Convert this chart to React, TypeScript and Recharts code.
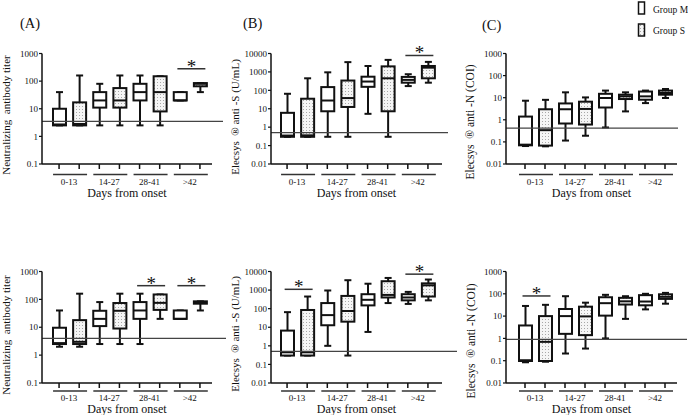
import { ComposedChart, Bar, XAxis, YAxis, ReferenceLine } from 'recharts';

const FONT = "'Liberation Serif', 'Times New Roman', serif";
const INK = '#111';

const CATEGORIES = ['0-13', '14-27', '28-41', '>42'];
const GROUPS = ['Group M', 'Group S'];

// [min, q1, median, q3, max] per box, ordered M, S for each day range
const neutTop = [
  [2.5, 2.5, 2.7, 10, 40], [2.5, 2.5, 2.8, 17, 160],
  [2.5, 11, 20, 40, 80], [2.5, 11, 20, 56, 160],
  [2.5, 20, 40, 80, 160], [2.5, 8, 40, 150, 150],
  [20, 20, 20, 40, 40], [40, 65, 80, 85, 85],
];
const antiSTop = [
  [0.3, 0.3, 0.35, 6, 65], [0.3, 0.3, 0.36, 35, 450],
  [0.3, 7.3, 28, 150, 950], [0.3, 12.5, 38, 340, 3400],
  [5.3, 155, 300, 550, 2100], [0.3, 7.3, 450, 2000, 4500],
  [170, 260, 370, 535, 750], [260, 450, 1700, 2100, 3500],
];
const antiNTop = [
  [0.065, 0.07, 0.075, 1.4, 7.3], [0.063, 0.068, 0.34, 3, 8],
  [0.115, 0.68, 3, 5.5, 17.5], [0.19, 0.61, 3.1, 6.6, 10.3],
  [0.45, 3.6, 9.7, 15, 21], [2.4, 8.7, 11.5, 13.7, 17.5],
  [5.7, 8.1, 11.5, 19, 21], [9.7, 13.7, 16.3, 21, 24.8],
];
const neutBottom = [
  [2.0, 2.5, 2.7, 9.6, 40], [2.0, 2.5, 3.0, 18, 160],
  [2.5, 11, 20, 39, 80], [2.5, 9, 39, 74, 160],
  [2.5, 20, 40, 80, 160], [20, 42, 75, 150, 150],
  [20, 20, 20, 40, 40], [40, 70, 80, 85, 85],
];
const antiSBottom = [
  [0.3, 0.3, 0.45, 6.6, 65], [0.3, 0.3, 0.45, 85, 450],
  [1.0, 12.8, 45, 200, 950], [0.3, 20, 75, 485, 3400],
  [5.6, 150, 300, 600, 2200], [200, 400, 550, 3000, 4500],
  [180, 280, 400, 600, 800], [280, 450, 1800, 2300, 3700],
];
const antiNBottom = [
  [0.085, 0.097, 0.105, 3.8, 28.5], [0.09, 0.097, 0.7, 10, 32],
  [0.21, 1.6, 10, 20.8, 78], [0.35, 1.4, 9.7, 26.5, 40],
  [1.0, 10.5, 38, 70, 90], [7.5, 33, 46, 66, 78],
  [20, 30.5, 45, 87, 100], [36, 59, 73, 95, 110],
];

// height of the significance bar per day range (null = none)
const neutTopSig = [null, null, null, 280];
const antiSTopSig = [null, null, null, 7800];
const antiNTopSig = [null, null, null, null];
const neutBottomSig = [null, null, 310, 310];
const antiSBottomSig = [1100, null, null, 7200];
const antiNBottomSig = [80, null, null, null];

const TICKS_NEUT = [0.1, 1, 10, 100, 1000];
const TICKS_S = [0.01, 0.1, 1, 10, 100, 1000, 10000];
const TICKS_N = [0.01, 0.1, 1, 10, 100, 1000];

const ROWS = [
  { top: 0, height: 210, marginTop: 53.5, xHeight: 46, ul: 10.5, lbl: 21, title: 32.5 },
  { top: 210, height: 205, marginTop: 61.5, xHeight: 32, ul: 8, lbl: 18, title: 30 },
];
const COLS = [
  { left: 0, width: 230, yWidth: 42, marginRight: 18, padL: 7, padR: 2 },
  { left: 230, width: 230, yWidth: 41, marginRight: 18, padL: 6, padR: 4 },
  { left: 460, width: 228, yWidth: 46, marginRight: 11, padL: 9, padR: 2 },
];

const PANELS = [
  { row: 0, col: 0, boxes: neutTop, sig: neutTopSig, cutoff: 3.5, ticks: TICKS_NEUT, refExt: 11,
    yLabel: 'Neutralizing  antibody titer', lx: 5.5, ly: 115, ls: 11 },
  { row: 0, col: 1, boxes: antiSTop, sig: antiSTopSig, cutoff: 0.5, ticks: TICKS_S, refExt: 6,
    yLabel: 'Elecsys  \u00ae anti -S (U/mL)', lx: 5, ly: 117, ls: 11 },
  { row: 0, col: 2, boxes: antiNTop, sig: antiNTopSig, cutoff: 0.42, ticks: TICKS_N, refExt: 1,
    yLabel: 'Elecsys  \u00ae anti -N (COI)', lx: 10, ly: 122, ls: 11.5 },
  { row: 1, col: 0, boxes: neutBottom, sig: neutBottomSig, cutoff: 4, ticks: TICKS_NEUT, refExt: 14,
    yLabel: 'Neutralizing  antibody titer', lx: 5.5, ly: 125, ls: 11 },
  { row: 1, col: 1, boxes: antiSBottom, sig: antiSBottomSig, cutoff: 0.5, ticks: TICKS_S, refExt: 15,
    yLabel: 'Elecsys  \u00ae anti -S (U/mL)', lx: 4.5, ly: 124, ls: 11 },
  { row: 1, col: 2, boxes: antiNBottom, sig: antiNBottomSig, cutoff: 0.9, ticks: TICKS_N, refExt: 10,
    yLabel: 'Elecsys  \u00ae anti -N (COI)', lx: 10.5, ly: 131, ls: 11.5 },
];

function buildRows(boxes: number[][], sig: (number | null)[]) {
  return boxes.map((b, i) => {
    const cat = Math.floor(i / 2);
    const group = i % 2;
    return {
      key: `${CATEGORIES[cat]} ${GROUPS[group]}`,
      cat,
      group,
      min: b[0], q1: b[1], med: b[2], q3: b[3], max: b[4],
      range: [b[0], b[4]],
      sig: group === 1 ? sig[cat] : null,
    };
  });
}

// eslint-disable-next-line @typescript-eslint/no-explicit-any
function BoxShape(props: any) {
  const { x, y, width, height, payload } = props;
  if (!payload) return null;
  const top = Math.min(y, y + height);
  const bottom = Math.max(y, y + height);
  const span = bottom - top;
  const lo = Math.log10(payload.min);
  const hi = Math.log10(payload.max);
  // bar spans [min, max] on the log axis, so interpolate in log space
  const py = (v: number) => bottom - ((Math.log10(v) - lo) / (hi - lo)) * span;
  const cx = x + width / 2;
  const half = width / 2;
  const cap = 3.5;
  const yq1 = py(payload.q1);
  const yq3 = py(payload.q3);
  const ymed = py(payload.med);
  const fill = payload.group === 1 ? 'url(#dotFill)' : '#fff';
  const sy = payload.sig != null ? py(payload.sig) : null;
  return (
    <g>
      <line x1={cx} y1={top} x2={cx} y2={yq3} stroke={INK} strokeWidth={2} />
      <line x1={cx} y1={yq1} x2={cx} y2={bottom} stroke={INK} strokeWidth={2} />
      <line x1={cx - cap} y1={top} x2={cx + cap} y2={top} stroke={INK} strokeWidth={2} />
      <line x1={cx - cap} y1={bottom} x2={cx + cap} y2={bottom} stroke={INK} strokeWidth={2} />
      <rect x={cx - half} y={yq3} width={width} height={Math.max(yq1 - yq3, 0)} fill={fill} stroke={INK} strokeWidth={2} />
      <line x1={cx - half} y1={ymed} x2={cx + half} y2={ymed} stroke={INK} strokeWidth={2} />
      {sy != null && (
        <g>
          <line x1={cx - 23} y1={sy} x2={cx + 5} y2={sy} stroke="#333" strokeWidth={1.5} />
          <text x={cx - 9} y={sy + 4} textAnchor="middle" fontSize={19} fontFamily={FONT} fill={INK}>*</text>
        </g>
      )}
    </g>
  );
}

// eslint-disable-next-line @typescript-eslint/no-explicit-any
function GroupTick(props: any) {
  const { x, y, payload, row } = props;
  const lay = ROWS[row];
  const idx = payload.index;
  return (
    <g>
      <line x1={x} y1={y} x2={x} y2={y + 5} stroke={INK} strokeWidth={1.5} />
      {idx % 2 === 0 && (
        <g>
          <line x1={x - 6} y1={y + lay.ul} x2={x + 28} y2={y + lay.ul} stroke="#333" strokeWidth={1.5} />
          <text x={x + 10} y={y + lay.lbl} textAnchor="middle" fontSize={9} fontFamily={FONT} fill={INK}>
            {CATEGORIES[idx / 2]}
          </text>
        </g>
      )}
    </g>
  );
}

// eslint-disable-next-line @typescript-eslint/no-explicit-any
function Panel({ p }: { p: any }) {
  const row = ROWS[p.row];
  const col = COLS[p.col];
  const data = buildRows(p.boxes, p.sig);
  const plotBottom = row.height - row.xHeight;
  const titleX = col.yWidth + (col.width - col.yWidth - col.marginRight) / 2;
  return (
    <div style={{ position: 'absolute', left: col.left, top: row.top }}>
      <ComposedChart
        width={col.width}
        height={row.height}
        data={data}
        margin={{ top: row.marginTop, right: col.marginRight, bottom: 0, left: 0 }}
      >
        <XAxis
          dataKey="key"
          type="category"
          interval={0}
          height={row.xHeight}
          padding={{ left: col.padL, right: col.padR }}
          tickLine={false}
          tickSize={0}
          tickMargin={0}
          axisLine={{ stroke: INK, strokeWidth: 1.5 }}
          tick={(t) => <GroupTick {...t} row={p.row} />}
          label={{
            content: () => (
              <text x={titleX} y={plotBottom + row.title} textAnchor="middle" fontSize={12} fontFamily={FONT} fill={INK}>
                Days from onset
              </text>
            ),
          }}
        />
        <YAxis
          type="number"
          scale="log"
          domain={[p.ticks[0], p.ticks[p.ticks.length - 1]]}
          ticks={p.ticks}
          interval={0}
          width={col.yWidth}
          tickSize={3}
          tickMargin={1}
          tickFormatter={(v) => String(v)}
          tick={{ fontSize: 9, fill: INK, fontFamily: FONT }}
          axisLine={{ stroke: INK, strokeWidth: 1.5 }}
          tickLine={{ stroke: INK, strokeWidth: 1.2 }}
          label={{
            content: () => (
              <text
                transform={`translate(${p.lx},${p.ly}) rotate(-90)`}
                textAnchor="middle"
                dominantBaseline="central"
                fontSize={p.ls}
                fontFamily={FONT}
                fill={INK}
                style={{ whiteSpace: 'pre' }}
              >
                {p.yLabel}
              </text>
            ),
          }}
        />
        <ReferenceLine
          y={p.cutoff}
          // eslint-disable-next-line @typescript-eslint/no-explicit-any
          shape={(s: any) => (
            <line x1={s.x1} y1={s.y1} x2={s.x2 + p.refExt} y2={s.y2} stroke="#444" strokeWidth={1.2} />
          )}
        />
        <Bar dataKey="range" barSize={13} shape={BoxShape} isAnimationActive={false} />
      </ComposedChart>
    </div>
  );
}

export default function App() {
  return (
    <div style={{ position: 'fixed', left: 0, top: 0, width: 688, height: 415, background: '#fff', overflow: 'hidden' }}>
      <svg width="0" height="0" style={{ position: 'absolute' }}>
        <defs>
          <pattern id="dotFill" width="3" height="3" patternUnits="userSpaceOnUse">
            <rect width="3" height="3" fill="#f5f5f5" />
            <rect x="1" y="1" width="1" height="1" fill="#a8a8a8" />
          </pattern>
        </defs>
      </svg>
      {PANELS.map((p, i) => (
        <Panel key={i} p={p} />
      ))}
      <svg width={688} height={415} style={{ position: 'absolute', left: 0, top: 0, pointerEvents: 'none' }}>
        <text x={20} y={28} fontSize={14.5} fontFamily={FONT} fill={INK}>(A)</text>
        <text x={243} y={28} fontSize={14.5} fontFamily={FONT} fill={INK}>(B)</text>
        <text x={482} y={30} fontSize={14.5} fontFamily={FONT} fill={INK}>(C)</text>
        <rect x={638.5} y={2} width={6} height={12} fill="#fff" stroke={INK} strokeWidth={1.5} />
        <text x={653} y={12.5} fontSize={9.5} fontFamily={FONT} fill={INK}>{GROUPS[0]}</text>
        <rect x={638.5} y={24} width={6} height={12} fill="url(#dotFill)" stroke={INK} strokeWidth={1.5} />
        <text x={653} y={33.5} fontSize={9.5} fontFamily={FONT} fill={INK}>{GROUPS[1]}</text>
      </svg>
    </div>
  );
}
